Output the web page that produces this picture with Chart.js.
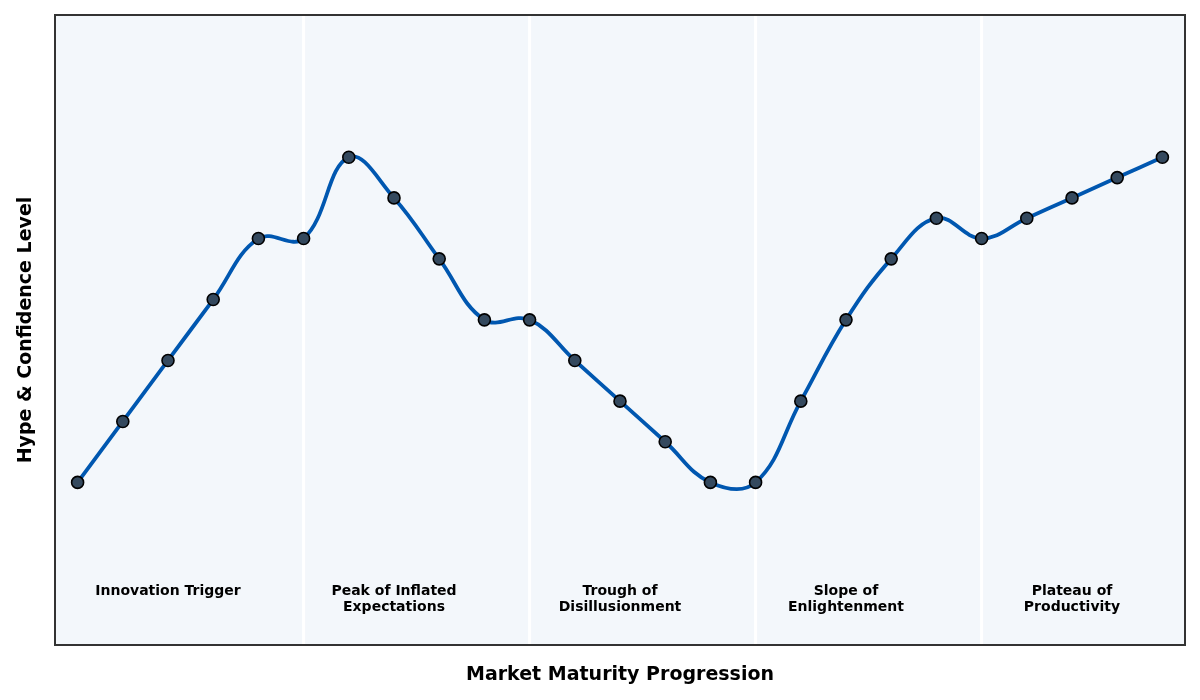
<!DOCTYPE html>
<html><head><meta charset="utf-8">
<script src="https://cdn.jsdelivr.net/npm/chart.js@4/dist/chart.umd.min.js"></script>
<style>html,body{margin:0;padding:0;background:#fff}#wrap{width:1200px;height:700px}</style>
</head><body><div id="wrap"><canvas id="c" width="1200" height="700"></canvas></div>
<script>
const hypeValues = [20, 35, 50, 65, 80, 80, 100, 90, 75, 60, 60, 50, 40, 30, 20, 20, 40, 60, 75, 85, 80, 85, 90, 95, 100];
const phaseNames = [["Innovation Trigger"], ["Peak of Inflated", "Expectations"], ["Trough of", "Disillusionment"], ["Slope of", "Enlightenment"], ["Plateau of", "Productivity"]];
const phaseLabelX = [2, 7, 12, 17, 22];
const phaseBounds = [5, 10, 15, 20];
const phaseLabelY = -5;

const points = hypeValues.map((v, i) => ({x: i, y: v}));

const bgPlugin = {
  id: 'bg',
  beforeDraw(chart) {
    const {ctx, chartArea: a, scales} = chart;
    ctx.save();
    ctx.fillStyle = '#f3f7fb';
    ctx.fillRect(a.left, a.top, a.right - a.left, a.bottom - a.top);
    ctx.strokeStyle = '#ffffff';
    ctx.lineWidth = 3;
    phaseBounds.forEach(b => {
      const x = scales.x.getPixelForValue(b);
      ctx.beginPath(); ctx.moveTo(x, a.top); ctx.lineTo(x, a.bottom); ctx.stroke();
    });
    ctx.fillStyle = '#000';
    ctx.font = 'bold 14px "DejaVu Sans"';
    ctx.textAlign = 'center';
    ctx.textBaseline = 'top';
    const yTop = scales.y.getPixelForValue(phaseLabelY);
    phaseNames.forEach((lines, i) => {
      const x = scales.x.getPixelForValue(phaseLabelX[i]);
      lines.forEach((t, j) => ctx.fillText(t, x, yTop + j * 16));
    });
    ctx.restore();
  },
  afterDraw(chart) {
    const {ctx, chartArea: a} = chart;
    ctx.save();
    ctx.strokeStyle = '#333333';
    ctx.lineWidth = 2;
    ctx.strokeRect(a.left, a.top, a.right - a.left, a.bottom - a.top);
    ctx.restore();
  }
};

new Chart(document.getElementById('c'), {
  type: 'line',
  data: {
    datasets: [{
      data: points,
      borderColor: '#0057b0',
      borderWidth: 3.8,
      tension: 0.4,
      pointRadius: 6,
      pointBackgroundColor: '#34495e',
      pointBorderColor: '#000000',
      pointBorderWidth: 1.6,
      fill: false
    }]
  },
  options: {
    responsive: false,
    animation: false,
    layout: {padding: {top: 15, right: 15, left: 0, bottom: 0}},
    plugins: {legend: {display: false}, tooltip: {enabled: false}},
    scales: {
      x: {
        type: 'linear', min: -0.5, max: 24.5,
        grid: {display: false}, border: {display: false},
        ticks: {display: false},
        title: {display: true, text: 'Market Maturity Progression', color: '#000',
          font: {family: 'DejaVu Sans', size: 19, weight: 'bold'}, padding: {top: 8, bottom: 14}},
        afterFit(s) { s.height = 55; }
      },
      y: {
        min: -20, max: 135,
        grid: {display: false}, border: {display: false},
        ticks: {display: false},
        title: {display: true, text: 'Hype & Confidence Level', color: '#000',
          font: {family: 'DejaVu Sans', size: 19, weight: 'bold'}, padding: {top: 15, bottom: 5}},
        afterFit(s) { s.width = 55; }
      }
    }
  },
  plugins: [bgPlugin]
});
</script></body></html>
